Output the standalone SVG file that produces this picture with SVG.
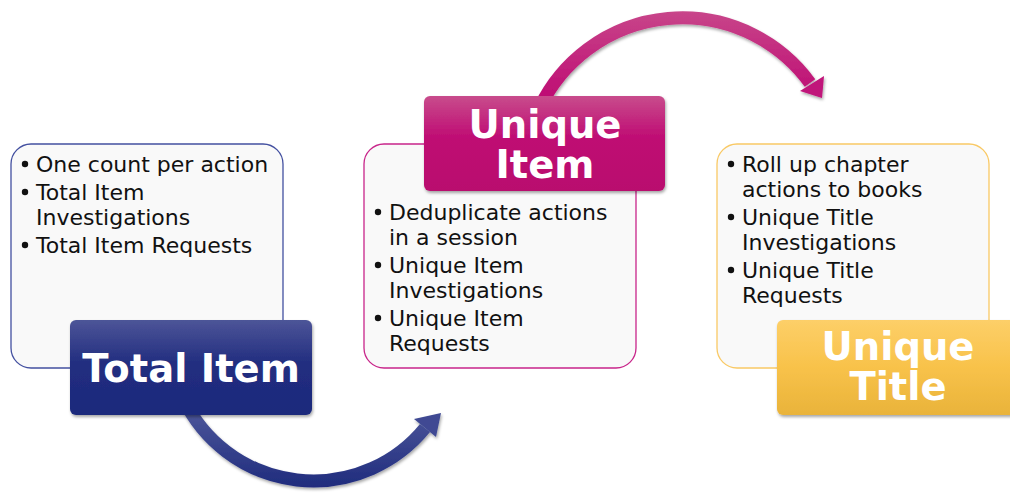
<svg xmlns="http://www.w3.org/2000/svg" width="1010" height="493" viewBox="0 0 1010 493">
<defs>
<style>
.box{fill:#f9f9f9;stroke-width:1.3}
.body{font-family:"DejaVu Sans","Liberation Sans",sans-serif;font-size:22px;fill:#111}
.title{font-family:"DejaVu Sans","Liberation Sans",sans-serif;font-size:38.5px;font-weight:bold;fill:#fff;text-anchor:middle}
.arrow{fill:none;stroke-width:13}
</style>
<linearGradient id="gBlue" x1="0" y1="0" x2="0" y2="1">
<stop offset="0" stop-color="#4d5598"/><stop offset="0.45" stop-color="#222e80"/><stop offset="1" stop-color="#1c297c"/>
</linearGradient>
<linearGradient id="gMag" x1="0" y1="0" x2="0" y2="1">
<stop offset="0" stop-color="#c84c8c"/><stop offset="0.45" stop-color="#bf0b73"/><stop offset="1" stop-color="#b90a6e"/>
</linearGradient>
<linearGradient id="gGold" x1="0" y1="0" x2="0" y2="1">
<stop offset="0" stop-color="#fdcf68"/><stop offset="0.5" stop-color="#f8c24a"/><stop offset="1" stop-color="#e9b33a"/>
</linearGradient>
<linearGradient id="aBlue" gradientUnits="userSpaceOnUse" x1="0" y1="400" x2="0" y2="490">
<stop offset="0" stop-color="#525c9e"/><stop offset="1" stop-color="#1e2a7c"/>
</linearGradient>
<linearGradient id="aMag" gradientUnits="userSpaceOnUse" x1="0" y1="10" x2="0" y2="100">
<stop offset="0" stop-color="#c8468a"/><stop offset="1" stop-color="#be0b73"/>
</linearGradient>
<filter id="sh" x="-10%" y="-10%" width="120%" height="130%">
<feDropShadow dx="1" dy="2" stdDeviation="1.5" flood-color="#000" flood-opacity="0.35"/>
</filter>
</defs>
<rect width="1010" height="493" fill="#fff"/>

<g id="connectors">
<g filter="url(#sh)">
<path class="arrow" stroke="url(#aBlue)" d="M184 400 A144 144 0 0 0 425 428"/>
<polygon fill="#3f4a93" points="441,413 436,437 414,419"/>
</g>
<g filter="url(#sh)">
<path class="arrow" stroke="url(#aMag)" d="M540 107 A158 158 0 0 1 810 83"/>
<polygon fill="#c0137a" points="822,98 824,76 800,91"/>
</g>
</g>

<g id="node-total-item">
<rect class="box" x="11" y="144" width="272" height="224" rx="20" stroke="#4350a0"/>
<g class="body">
<circle cx="25" cy="164" r="3.2" fill="#111"/>
<text x="36" y="172">One count per action</text>
<circle cx="25" cy="192" r="3.2" fill="#111"/>
<text x="36" y="200">Total Item</text>
<text x="36" y="225">Investigations</text>
<circle cx="25" cy="245" r="3.2" fill="#111"/>
<text x="36" y="253">Total Item Requests</text>
</g>
<rect x="70" y="320" width="242" height="95" rx="6" fill="url(#gBlue)" filter="url(#sh)"/>
<text class="title" x="191" y="382">Total Item</text>
</g>

<g id="node-unique-item">
<rect class="box" x="364" y="144" width="272" height="224" rx="20" stroke="#c8258a"/>
<g class="body">
<circle cx="378" cy="212" r="3.2" fill="#111"/>
<text x="389" y="220">Deduplicate actions</text>
<text x="389" y="245">in a session</text>
<circle cx="378" cy="265" r="3.2" fill="#111"/>
<text x="389" y="273">Unique Item</text>
<text x="389" y="298">Investigations</text>
<circle cx="378" cy="318" r="3.2" fill="#111"/>
<text x="389" y="326">Unique Item</text>
<text x="389" y="351">Requests</text>
</g>
<rect x="424" y="96" width="241" height="95" rx="6" fill="url(#gMag)" filter="url(#sh)"/>
<text class="title" x="545" y="138">Unique</text>
<text class="title" x="545" y="178">Item</text>
</g>

<g id="node-unique-title">
<rect class="box" x="717" y="144" width="272" height="224" rx="20" stroke="#f9c965"/>
<g class="body">
<circle cx="731" cy="164" r="3.2" fill="#111"/>
<text x="742" y="172">Roll up chapter</text>
<text x="742" y="197">actions to books</text>
<circle cx="731" cy="217" r="3.2" fill="#111"/>
<text x="742" y="225">Unique Title</text>
<text x="742" y="250">Investigations</text>
<circle cx="731" cy="270" r="3.2" fill="#111"/>
<text x="742" y="278">Unique Title</text>
<text x="742" y="303">Requests</text>
</g>
<rect x="777" y="320" width="242" height="95" rx="6" fill="url(#gGold)" filter="url(#sh)"/>
<text class="title" x="898" y="360">Unique</text>
<text class="title" x="898" y="400">Title</text>
</g>
</svg>
